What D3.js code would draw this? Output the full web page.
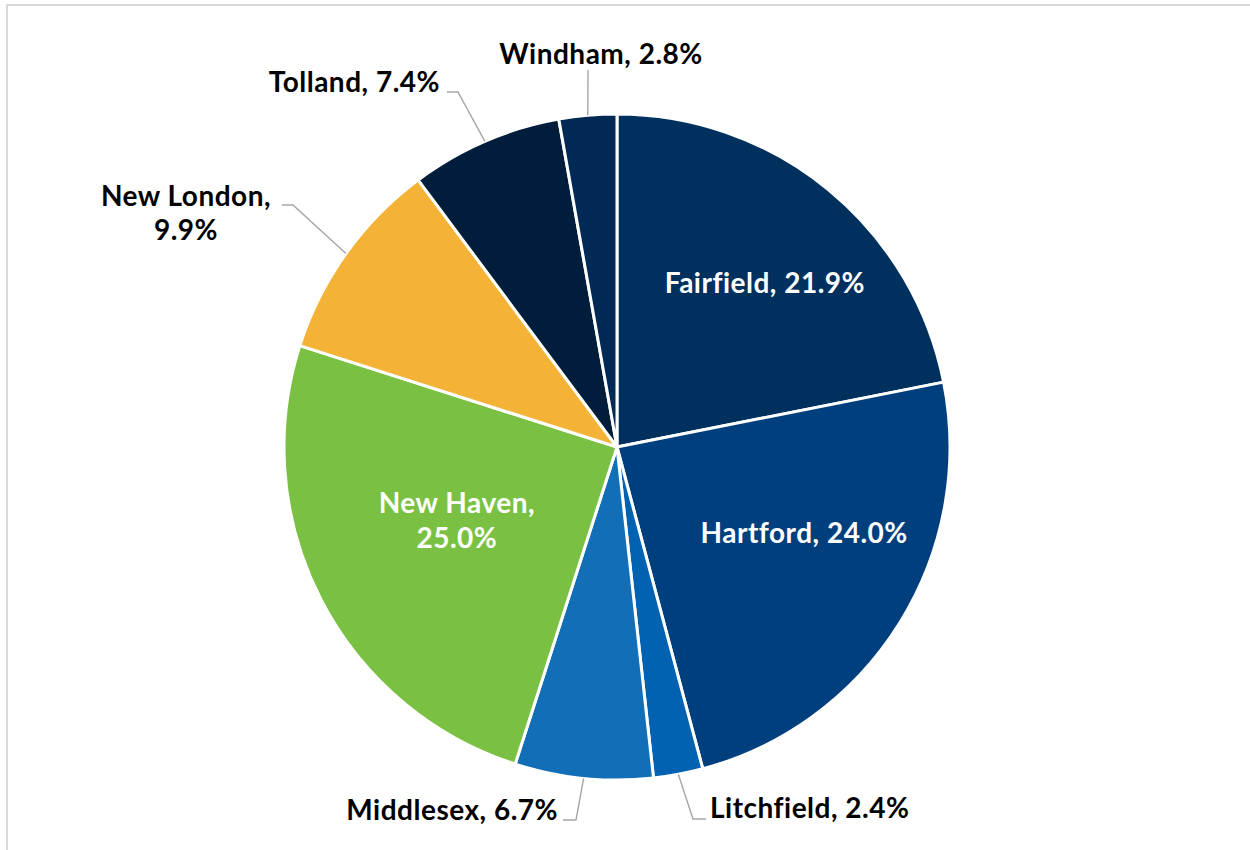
<!DOCTYPE html>
<html>
<head>
<meta charset="utf-8">
<script src="https://cdn.jsdelivr.net/npm/d3@7"></script>
<style>
  html, body { margin: 0; padding: 0; background: #fff; }
  svg { display: block; }
  text { font-family: Lato, "Open Sans", sans-serif; font-weight: 700; letter-spacing: 0.5px; }
</style>
</head>
<body>
<svg id="chart" width="1250" height="850"></svg>
<script>
// County shares (%)
const counties = ["Fairfield", "Hartford", "Litchfield", "Middlesex", "New Haven", "New London", "Tolland", "Windham"];
const shares = [21.9, 24.0, 2.4, 6.7, 25.0, 9.9, 7.4, 2.8];
const colors = ["#00305e", "#003f7e", "#0062b0", "#126eb6", "#7ac143", "#f4b336", "#001e3b", "#002a55"];

const W = 1250, H = 850;
const cx = 617, cy = 447, R = 333;
const FONT = 28;

const svg = d3.select("#chart");

// light frame around the chart area
svg.append("rect")
  .attr("x", 7).attr("y", 5).attr("width", W + 20).attr("height", H + 20)
  .attr("fill", "none").attr("stroke", "#d9d9d9").attr("stroke-width", 2);

const data = counties.map((c, i) => ({ name: c, value: shares[i], color: colors[i] }));

const pie = d3.pie().value(d => d.value).sort(null);
const arcs = pie(data);
const arc = d3.arc().innerRadius(0).outerRadius(R);

const g = svg.append("g").attr("transform", `translate(${cx},${cy})`);

g.selectAll("path.slice")
  .data(arcs)
  .join("path")
  .attr("class", "slice")
  .attr("d", arc)
  .attr("fill", d => d.data.color)
  .attr("stroke", "#fff")
  .attr("stroke-width", 3)
  .attr("stroke-linejoin", "round");

const fmt = d => `${d.data.name}, ${d.data.value.toFixed(1)}%`;
const midAngle = d => (d.startAngle + d.endAngle) / 2;
const polar = (r, a) => [r * Math.sin(a), -r * Math.cos(a)];

// labels placed inside their slice: radius and angle (deg) of the label centre
const insideLayout = {
  "Fairfield": { r: 221, ang: 42, lines: 1 },
  "Hartford":  { r: 206, ang: 114.7, lines: 1 },
  "New Haven": { r: 176, ang: 245.5, lines: 2 }
};

// labels outside the pie with a leader: elbow and end offsets from the centre
const outsideLayout = {
  "Windham":    { elbow: null, end: [-29, -377], anchor: "middle", tx: -16, ty: -383, lines: 1 },
  "Tolland":    { elbow: [-159, -355], end: [-170, -355], anchor: "end", tx: -177, ty: -355, lines: 1 },
  "New London": { elbow: [-324, -242], end: [-335, -242], anchor: "middle", tx: -431, ty: -241, lines: 2 },
  "Middlesex":  { elbow: [-41, 373], end: [-54, 373], anchor: "end", tx: -59, ty: 373, lines: 1 },
  "Litchfield": { elbow: [76, 372], end: [89, 372], anchor: "start", tx: 93, ty: 371, lines: 1 }
};

arcs.forEach(d => {
  const name = d.data.name;
  if (insideLayout[name]) {
    const L = insideLayout[name];
    const [x, y] = polar(L.r, L.ang * Math.PI / 180);
    const t = g.append("text")
      .attr("fill", "#fff")
      .attr("font-size", FONT)
      .attr("text-anchor", "middle");
    if (L.lines === 1) {
      t.attr("x", x).attr("y", y + 10).text(fmt(d));
    } else {
      t.append("tspan").attr("x", x).attr("y", y - 7).text(`${name},`);
      t.append("tspan").attr("x", x).attr("y", y + 28).text(`${d.data.value.toFixed(1)}%`);
    }
  } else if (outsideLayout[name]) {
    const L = outsideLayout[name];
    const p0 = polar(R, midAngle(d));
    const pts = [p0];
    if (L.elbow) pts.push(L.elbow);
    pts.push(L.end);
    g.append("path")
      .attr("d", d3.line()(pts))
      .attr("fill", "none")
      .attr("stroke", "#a6a6a6")
      .attr("stroke-width", 1.4);
    const t = g.append("text")
      .attr("fill", "#000")
      .attr("font-size", FONT)
      .attr("text-anchor", L.anchor);
    if (L.lines === 1) {
      t.attr("x", L.tx).attr("y", L.ty).text(fmt(d));
    } else {
      t.append("tspan").attr("x", L.tx).attr("y", L.ty).text(`${name},`);
      t.append("tspan").attr("x", L.tx).attr("y", L.ty + 34).text(`${d.data.value.toFixed(1)}%`);
    }
  }
});
</script>
</body>
</html>
